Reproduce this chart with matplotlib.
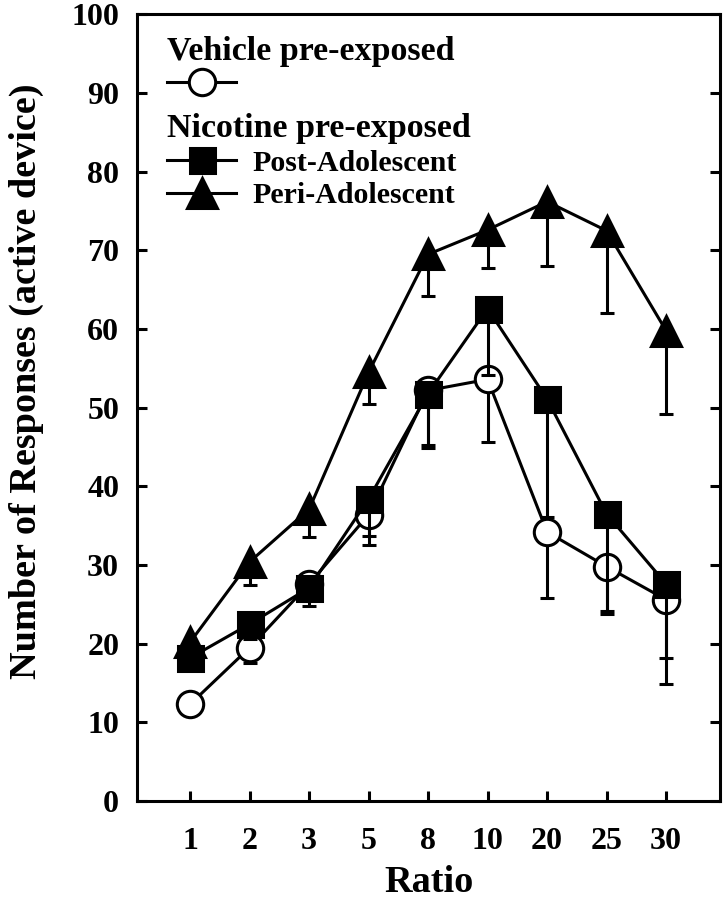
import matplotlib
matplotlib.use("Agg")
import matplotlib.pyplot as plt
import numpy as np

ratios = ['1', '2', '3', '5', '8', '10', '20', '25', '30']
vehicle = [12.3, 19.5, 27.6, 36.4, 52.2, 53.6, 34.2, 29.8, 25.6]
vehicle_err = [1.0, 2.0, 2.8, 3.8, 7.3, 7.9, 8.4, 6.0, 10.7]
post_adol = [18.2, 22.5, 27.1, 38.4, 51.8, 62.6, 51.1, 36.5, 27.6]
post_err = [1.0, 1.9, 1.7, 4.7, 6.5, 8.5, 15.0, 12.3, 9.4]
peri_adol = [20.2, 30.4, 37.1, 54.5, 69.5, 72.6, 76.2, 72.5, 59.8]
peri_err = [1.0, 3.0, 3.5, 4.0, 5.3, 4.9, 8.2, 10.5, 10.6]

plt.rcParams['font.family'] = ['Liberation Serif', 'DejaVu Serif']
plt.rcParams['font.weight'] = 'bold'

fig = plt.figure(figsize=(7.26, 9.0), dpi=100)
ax = fig.add_axes([0.189, 0.11, 0.803, 0.874])

x = np.arange(len(ratios))
lw = 2.2

def plot_series(vals, errs, marker, face, ms, z):
    lower = np.array(errs)
    upper = np.zeros_like(lower)
    eb = ax.errorbar(x, vals, yerr=[lower, upper], color='black', marker=marker,
                     markerfacecolor=face, markeredgecolor='black', markeredgewidth=lw,
                     markersize=ms, linewidth=lw, elinewidth=lw, capsize=5, capthick=lw,
                     zorder=z)
    return eb

eb_v = plot_series(vehicle, vehicle_err, 'o', 'white', 19, 3)
eb_peri = plot_series(peri_adol, peri_err, '^', 'black', 22, 4)
eb_post = plot_series(post_adol, post_err, 's', 'black', 18, 5)

ax.set_xlim(-0.89, 8.91)
ax.set_ylim(0, 100)
ax.set_xticks(x)
ax.set_xticklabels(ratios)
ax.set_yticks(np.arange(0, 101, 10))

for s in ax.spines.values():
    s.set_linewidth(2.2)

ax.tick_params(axis='y', direction='in', left=True, right=True, length=7, width=2.2,
               labelsize=23, pad=13)
ax.tick_params(axis='x', direction='in', bottom=True, top=False, length=7, width=2.2,
               labelsize=23, pad=19)

ax.set_xlabel('Ratio', fontsize=27.5, fontweight='bold')
ax.xaxis.set_label_coords(0.5, -0.081)
ax.set_ylabel('Number of Responses (active device)', fontsize=27.5, fontweight='bold')
ax.yaxis.set_label_coords(-0.16, 0.534)

leg1 = ax.legend([eb_v[0]], [''], title='Vehicle pre-exposed', loc='upper left',
                 bbox_to_anchor=(0.021, 0.995), frameon=False, alignment='left',
                 handlelength=2.3, handletextpad=0.6, borderaxespad=0.2,
                 labelspacing=0.15,
                 prop={'size': 21.5, 'weight': 'bold'},
                 title_fontproperties={'size': 24.5, 'weight': 'bold'})
ax.add_artist(leg1)
leg2 = ax.legend([eb_post[0], eb_peri[0]], ['Post-Adolescent', 'Peri-Adolescent'],
                 title='Nicotine pre-exposed', loc='upper left',
                 bbox_to_anchor=(0.021, 0.898), frameon=False, alignment='left',
                 handlelength=2.3, handletextpad=0.55, borderaxespad=0.2,
                 labelspacing=0.2, handleheight=0.7,
                 prop={'size': 21.5, 'weight': 'bold'},
                 title_fontproperties={'size': 24.5, 'weight': 'bold'})

fig.savefig('out.png', dpi=100)
